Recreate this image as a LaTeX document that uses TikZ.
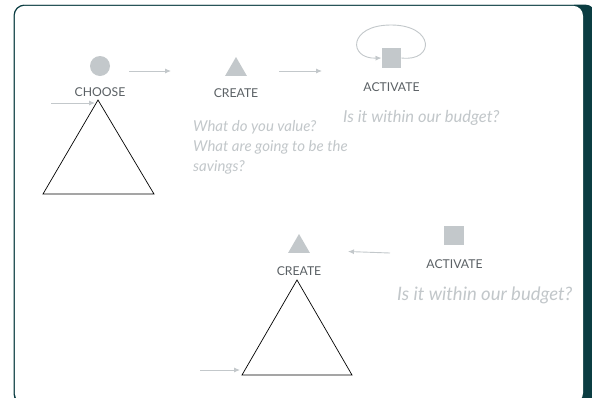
\documentclass[tikz,border=0pt]{standalone}
\usepackage{fontspec}
\setmainfont{Lato}
\usetikzlibrary{shapes.geometric,arrows.meta}

\definecolor{cardteal}{HTML}{0B3D42}
\definecolor{cardline}{HTML}{C9D3D4}
\definecolor{shapegray}{HTML}{C3C8CB}
\definecolor{labelgray}{HTML}{5A6064}
\definecolor{askgray}{HTML}{C2C7CA}

\tikzset{
  stage/.style={text=labelgray,inner sep=0pt,font=\fontsize{12.2}{14}\selectfont},
  ask/.style={text=askgray,inner sep=0pt,align=left,font=\fontsize{15}{20}\selectfont\itshape},
  flow/.style={draw=shapegray,line width=0.9pt,-{Latex[length=6pt,width=5pt]}},
  dot/.style={circle,fill=shapegray,inner sep=0pt,minimum size=20pt},
  tri/.style={regular polygon,regular polygon sides=3,fill=shapegray,inner sep=0pt,minimum size=25pt},
  box/.style={rectangle,fill=shapegray,inner sep=0pt,minimum size=19.5pt},
}

\begin{document}
\begin{tikzpicture}[x=1pt,y=-1pt]
        \useasboundingbox (0,0) rectangle (592,397);

        \fill[cardteal,rounded corners=11pt] (13.5,4.5) rectangle (596,405);
        \fill[white,rounded corners=10pt] (14.8,5.8) rectangle (583,403);
        \draw[cardline,line width=0.8pt] (24,3.9) -- (574,3.9);

        \node[dot] (choose) at (100,66) {};
        \node[tri] (create) at (236,69.5) {};
        \node[box] (activate) at (391.5,58) {};
        \node[stage] (chooselbl) at (100,92) {CHOOSE};
        \node[stage] (createlbl) at (236,93) {CREATE};
        \node[stage] (activatelbl) at (391.5,87) {ACTIVATE};

        \coordinate (a1) at (129,71);
        \coordinate (a2) at (171,71);
        \coordinate (b1) at (279,71);
        \coordinate (b2) at (322,71);
        \draw[flow] (a1) -- (a2);
        \draw[flow] (b1) -- (b2);
        \draw[flow] (activate.east) .. controls (435,62) and (435,25) .. (391,25)
                    .. controls (348,25) and (348,59) .. (activate.west);

        \node[ask,anchor=west,font=\fontsize{16.5}{20}\selectfont\itshape] (budget) at (343,118) {Is it within our budget?};
        \node[ask,anchor=north west] (value) at (193,120) {What do you value?\\What are going to be the\\savings?};

        \coordinate (topA) at (98,100);
        \coordinate (leftA) at (43,194);
        \coordinate (rightA) at (154,194);
        \draw[black,line width=0.7pt] (topA) -- (leftA) -- (rightA) -- cycle;
        \coordinate (inA) at (51,103);
        \coordinate (endA) at (95,103);
        \draw[flow] (inA) -- (endA);

        \node[tri] (create2) at (299,246.5) {};
        \node[box] (activate2) at (454,235.5) {};
        \node[stage] (create2lbl) at (299,271) {CREATE};
        \node[stage] (activate2lbl) at (454.5,264) {ACTIVATE};
        \coordinate (c1) at (390,253);
        \coordinate (c2) at (348,251.5);
        \draw[flow] (c1) -- (c2);
        \node[ask,anchor=west,font=\fontsize{18.5}{22}\selectfont\itshape] (budget2) at (397,295) {Is it within our budget?};

        \coordinate (topB) at (297,280);
        \coordinate (leftB) at (242,375);
        \coordinate (rightB) at (352,375);
        \draw[black,line width=0.7pt] (topB) -- (leftB) -- (rightB) -- cycle;
        \coordinate (inB) at (200,370);
        \coordinate (endB) at (240,370);
        \draw[flow] (inB) -- (endB);
\end{tikzpicture}
\end{document}
